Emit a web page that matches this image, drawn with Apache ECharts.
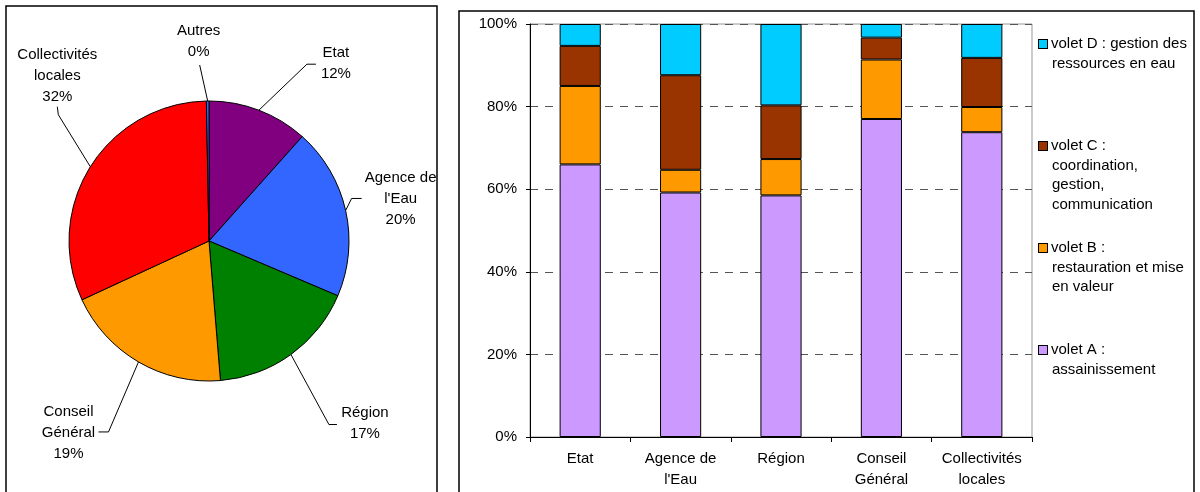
<!DOCTYPE html>
<html>
<head>
<meta charset="utf-8">
<script src="https://cdn.jsdelivr.net/npm/echarts@6/dist/echarts.min.js"></script>
<style>
  html, body { margin: 0; padding: 0; background: #fff; }
  #chart { width: 1200px; height: 492px; }
</style>
</head>
<body>
<div id="chart"></div>
<script>
// Left: financing split by partner (pie). Right: share of each "volet" per partner (100% stacked bars).

const pieNames = ['Etat', "Agence de\nl'Eau", 'Région', 'Conseil\nGénéral', 'Collectivités\nlocales', 'Autres'];
const pieValues = [11.6, 19.8, 17.3, 19.4, 31.6, 0.3];

const categories = ['Etat', "Agence de\nl'Eau", 'Région', 'Conseil\nGénéral', 'Collectivités\nlocales'];
const voletA = [66.0, 59.2, 58.5, 77.0, 73.8];
const voletB = [19.0, 5.5, 8.8, 14.4, 6.1];
const voletC = [9.7, 22.9, 13.0, 5.3, 11.9];
const voletD = [5.3, 12.4, 19.7, 3.3, 8.2];

const seriesNames = [
  'volet A :\nassainissement',
  'volet B :\nrestauration et mise\nen valeur',
  'volet C :\ncoordination,\ngestion,\ncommunication',
  'volet D : gestion des\nressources en eau',
];

const FONT = '"Liberation Sans", Arial, sans-serif';
const PIE_COLORS = ['#800080', '#3366FF', '#008000', '#FF9900', '#FF0000', '#3366FF'];
const BAR_COLORS = ['#CC99FF', '#FF9900', '#993300', '#00CCFF'];

// leader line shape per pie label: elbow offset from the slice edge,
// then a short end segment, then the text centre offset from the line end
const PIE_LABEL_PLACE = [
  { elbow: [48, -46], end: [9, 0], text: [20, -1] },
  { elbow: [6, -12], end: [10, 0], text: [39, 0] },
  { elbow: [38, 70], end: [8, 0], text: [28, -1] },
  { elbow: [-30, 70], end: [-10, 0], text: [-30, 1] },
  { elbow: [-32, -52], end: [-1, -8], text: [0, -31] },
  { elbow: [-8, -36], end: [0, 0], text: [-1, -24] },
];

// legend entries: first-line centres, evenly spread down the right side
const LEGEND_FIRST = 44;
const LEGEND_STEP = 102;
const LEGEND_LH = 19.5;

const chart = echarts.init(document.getElementById('chart'), null, { renderer: 'canvas' });

const pieData = pieNames.map((n, i) => ({ name: n, value: pieValues[i], itemStyle: { color: PIE_COLORS[i] } }));

const barData = [voletA, voletB, voletC, voletD];
const barSeries = barData.map((vals, i) => ({
  name: seriesNames[i],
  type: 'bar',
  stack: 'total',
  barWidth: '41%',
  data: vals,
  itemStyle: { color: BAR_COLORS[i], borderColor: '#000', borderWidth: 1 },
  emphasis: { disabled: true },
}));

// one legend per entry (top order D, C, B, A); the colour box is drawn
// inside the text so it sits on the first line like the original
const legends = [3, 2, 1, 0].map((si, k) => {
  const centre = LEGEND_FIRST + k * LEGEND_STEP;
  return {
    orient: 'vertical',
    left: 1034,
    top: centre - LEGEND_LH / 2,
    padding: 0,
    data: [seriesNames[si]],
    selectedMode: false,
    icon: 'none',
    itemWidth: 0,
    itemHeight: 0,
    formatter: (name) => name.split('\n')
      .map((line, i) => (i === 0 ? '{box|}{gap|}' : '{ind|}') + '{t|' + line + '}')
      .join('\n'),
    textStyle: {
      color: '#000',
      fontSize: 15,
      fontFamily: FONT,
      lineHeight: LEGEND_LH,
      rich: {
        box: { width: 8, height: 8, backgroundColor: BAR_COLORS[si], borderColor: '#000', borderWidth: 1 },
        gap: { width: 4 },
        ind: { width: 13 },
        t: { fontSize: 15, fontFamily: FONT, color: '#000', lineHeight: LEGEND_LH },
      },
    },
  };
});

const option = {
  animation: false,
  backgroundColor: '#fff',
  textStyle: { fontFamily: FONT, color: '#000' },
  graphic: [
    { type: 'rect', shape: { x: 6, y: 6, width: 431, height: 500 }, style: { fill: 'none', stroke: '#000', lineWidth: 1.5 }, silent: true },
    { type: 'rect', shape: { x: 459, y: 11, width: 735, height: 500 }, style: { fill: 'none', stroke: '#000', lineWidth: 1.5 }, silent: true },
  ],
  legend: legends,
  grid: {
    left: 530,
    right: 168,
    top: 24,
    bottom: 55,
    show: true,
    borderColor: '#999',
    borderWidth: 1,
    containLabel: false,
  },
  xAxis: {
    type: 'category',
    data: categories,
    axisLine: { lineStyle: { color: '#000', width: 1 } },
    axisTick: { show: true, length: 5, lineStyle: { color: '#000' } },
    axisLabel: { color: '#000', fontSize: 15, fontFamily: FONT, lineHeight: 21, margin: 11, interval: 0 },
    splitLine: { show: false },
  },
  yAxis: {
    type: 'value',
    min: 0,
    max: 100,
    interval: 20,
    axisLine: { show: true, lineStyle: { color: '#000', width: 1 } },
    axisTick: { show: true, length: 4, lineStyle: { color: '#000' } },
    axisLabel: { color: '#000', fontSize: 15, fontFamily: FONT, margin: 13, formatter: '{value}%' },
    splitLine: { show: true, lineStyle: { color: '#555', width: 1, type: [8, 7] } },
  },
  series: [
    {
      type: 'pie',
      center: [209, 241],
      radius: 140,
      startAngle: 90,
      clockwise: true,
      percentPrecision: 0,
      avoidLabelOverlap: false,
      data: pieData,
      itemStyle: { borderColor: '#000', borderWidth: 1 },
      emphasis: { disabled: true },
      label: {
        show: true,
        position: 'outside',
        color: '#000',
        fontSize: 15,
        fontFamily: FONT,
        lineHeight: 21,
        formatter: '{b}\n{d}%',
      },
      labelLine: { show: true, length: 10, length2: 10, smooth: false, lineStyle: { color: '#000', width: 1 } },
      labelLayout: function (p) {
        const place = PIE_LABEL_PLACE[p.dataIndex];
        if (!place || !p.labelLinePoints) return {};
        const p0 = p.labelLinePoints[0];
        const p1 = [p0[0] + place.elbow[0], p0[1] + place.elbow[1]];
        const p2 = [p1[0] + place.end[0], p1[1] + place.end[1]];
        return {
          x: p2[0] + place.text[0],
          y: p2[1] + place.text[1],
          align: 'center',
          verticalAlign: 'middle',
          labelLinePoints: [p0, p1, p2],
        };
      },
    },
    ...barSeries,
  ],
};

chart.setOption(option);
</script>
</body>
</html>
